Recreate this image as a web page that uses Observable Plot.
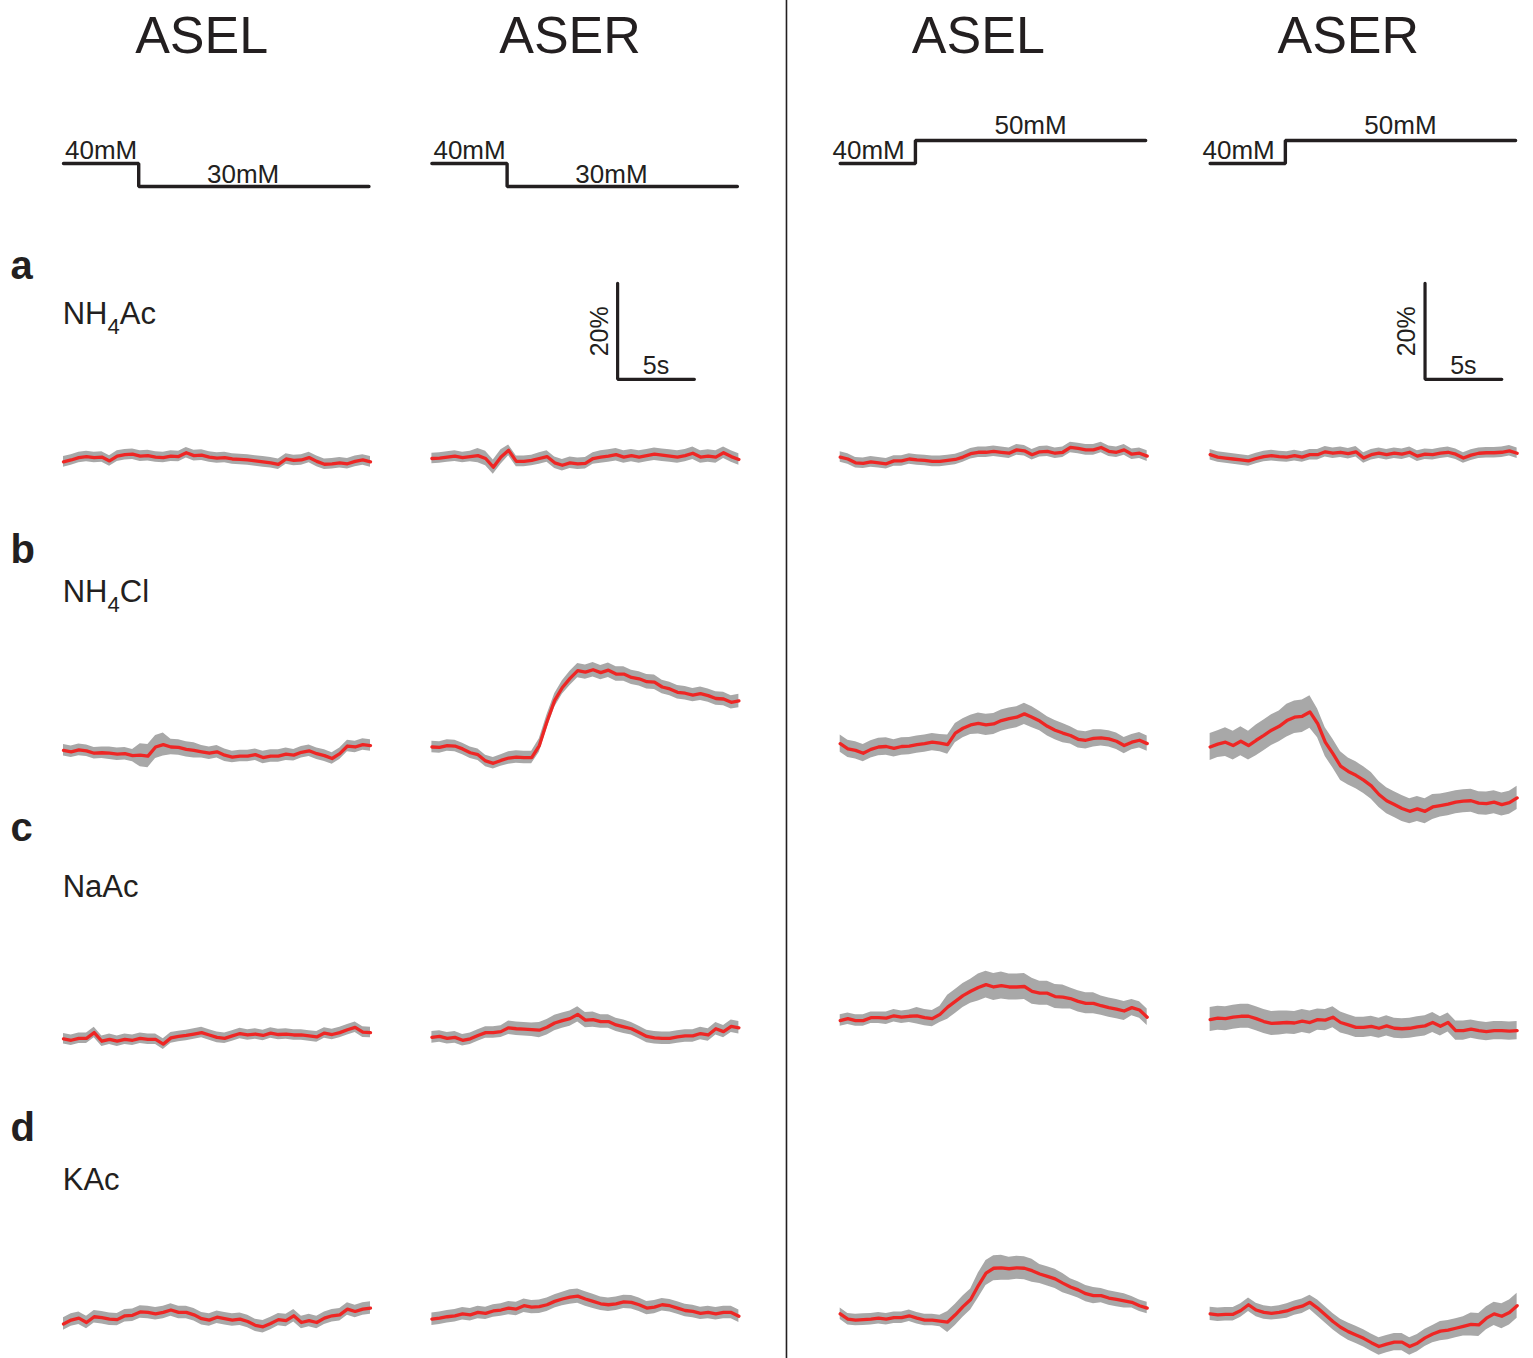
<!DOCTYPE html>
<html>
<head>
<meta charset="utf-8">
<script src="https://cdn.jsdelivr.net/npm/d3@7"></script>
<script src="https://cdn.jsdelivr.net/npm/@observablehq/plot@0.6"></script>
<style>
  html, body { margin: 0; padding: 0; background: #ffffff; }
  #chart { width: 1533px; height: 1358px; }
</style>
</head>
<body>
<div id="chart"></div>
<script>
// ---------------- DATA (ΔF/F, %, sampled every 0.5 s over 20 s) ----------------
const columns   = ["ASEL", "ASER", "ASEL", "ASER"];
const rowLetters = ["a", "b", "c", "d"];
const compounds = ["NH4Ac", "NH4Cl", "NaAc", "KAc"];
const times = d3.range(41).map(i => i * 0.5);        // s

// stimulus steps (mM) : left pair 40 -> 30, right pair 40 -> 50
const stimTimes = [0, 4.9, 19.9];
const stimDown  = [40, 30, 30];
const stimUp    = [40, 50, 50];
const stimLabelsDown = ["40mM", "30mM"];
const stimLabelsUp   = ["40mM", "50mM"];

// scale bar values
const scaleBarPct = 20;
const scaleBarSec = 5;
const scaleBarLabels = ["20%", "5s"];

// row a : NH4Ac
const nh4ac_asel_30 = [-0.3,0.1,0.6,0.8,0.6,0.7,-0.1,0.9,1.2,1.3,0.9,1.0,0.7,0.6,0.9,0.8,1.6,1.0,1.1,0.7,0.5,0.6,0.3,0.2,0.1,-0.1,-0.3,-0.5,-0.8,0.3,0.0,0.1,0.6,-0.2,-0.8,-0.7,-0.5,-0.7,-0.2,0.1,-0.3];
const nh4ac_aser_30 = [0.4,0.5,0.7,0.9,0.6,0.8,1.0,0.4,-1.4,0.7,2.1,-0.2,-0.2,0.0,0.4,0.8,-0.5,-1.0,-0.5,-0.7,-0.6,0.4,0.7,0.9,1.2,0.7,1.0,0.7,1.0,1.3,1.1,0.9,0.7,1.0,1.5,0.7,0.9,0.7,1.6,0.8,0.2];
const nh4ac_asel_50 = [0.7,0.3,-0.5,-0.6,-0.3,-0.5,-0.7,-0.1,-0.1,0.3,0.1,0.0,-0.2,-0.2,0.0,0.2,0.7,1.4,1.7,1.7,1.9,1.7,1.5,2.2,2.0,1.2,1.8,1.9,1.5,1.7,2.7,2.5,2.2,2.2,2.7,1.9,1.7,2.2,1.3,1.5,0.9];
const nh4ac_aser_50 = [1.2,0.7,0.5,0.3,0.1,-0.1,0.4,0.8,1.0,0.8,0.7,1.0,0.7,1.2,1.2,1.8,1.5,1.7,1.4,1.8,0.5,1.2,1.5,1.2,1.5,1.3,1.7,0.9,1.3,1.2,1.5,1.7,1.3,0.5,1.1,1.5,1.6,1.6,1.7,2.0,1.5];
// row b : NH4Cl
const nh4cl_asel_30 = [0.0,-0.3,0.1,-0.1,-0.6,-0.5,-0.6,-0.8,-0.7,-1.1,-1.0,-1.2,0.7,1.2,0.7,0.6,0.2,0.0,-0.3,-0.6,-0.3,-1.0,-1.4,-1.2,-1.2,-0.9,-1.5,-1.2,-1.2,-0.8,-1.0,-0.4,-0.1,-0.7,-1.1,-1.7,-0.7,0.9,0.7,1.2,1.0];
const nh4cl_aser_30 = [0.7,0.6,1.0,0.9,0.3,-0.5,-0.9,-2.2,-2.7,-2.1,-1.6,-1.4,-1.5,-1.5,1.0,6.0,10.4,13.1,15.0,16.6,16.3,16.8,16.2,16.7,15.9,15.9,15.2,14.9,14.3,14.2,13.2,12.8,12.1,11.9,11.5,11.8,11.4,10.8,10.7,10.0,10.3];
const nh4cl_asel_50 = [1.4,0.3,0.0,-0.6,0.2,0.7,0.8,0.4,0.8,0.9,1.2,1.4,1.7,1.5,1.2,3.6,4.6,5.3,5.6,5.3,5.5,6.2,6.6,6.9,7.6,6.9,6.1,5.0,4.2,3.6,3.1,2.3,2.1,2.5,2.6,2.4,1.9,1.0,1.7,2.1,1.4];
const nh4cl_aser_50 = [0.7,1.3,1.7,1.0,1.9,1.0,2.1,3.1,4.2,5.0,6.2,6.9,7.1,8.0,5.6,1.7,-0.7,-3.3,-4.4,-5.2,-6.2,-7.4,-9.2,-10.5,-11.3,-12.1,-12.7,-12.2,-12.7,-11.8,-11.5,-11.2,-10.8,-10.6,-10.5,-11.0,-11.1,-10.8,-11.3,-10.9,-9.9];
// row c : NaAc
const naac_asel_30 = [-0.7,-1.0,-0.6,-0.6,0.6,-1.2,-0.8,-1.2,-0.8,-1.0,-0.6,-0.8,-0.8,-1.8,-0.5,-0.2,0.0,0.3,0.6,0.1,-0.4,-0.6,-0.1,0.4,0.1,0.3,0.0,0.5,0.2,0.3,0.1,0.1,-0.1,-0.3,0.5,0.2,0.6,1.2,1.7,0.7,0.6];
const naac_aser_30 = [-0.4,-0.2,-0.6,-0.4,-1.0,-0.7,0.0,0.6,0.6,0.8,1.6,1.4,1.3,1.2,1.1,1.7,2.6,3.1,3.5,4.4,3.2,3.3,2.9,2.9,2.2,1.8,1.4,0.6,-0.2,-0.5,-0.6,-0.6,-0.3,-0.1,-0.1,0.4,0.1,1.4,0.8,1.9,1.6];
const naac_asel_50 = [3.1,3.5,3.1,3.1,3.7,3.7,3.6,4.1,3.8,4.0,4.1,3.7,3.5,4.4,5.9,7.1,8.3,9.2,10.0,10.6,10.1,10.4,10.1,10.1,10.2,9.2,8.8,8.8,8.1,8.0,7.7,7.1,6.7,6.7,6.2,5.8,5.5,5.1,5.8,5.3,3.8];
const naac_aser_50 = [3.3,3.6,3.5,3.8,4.0,4.0,3.5,2.9,2.5,2.6,2.7,2.6,3.0,2.7,3.3,3.2,3.8,2.7,2.2,1.7,1.7,1.9,1.5,2.0,1.5,1.4,1.5,1.8,2.0,2.7,1.9,2.7,1.0,1.0,1.3,1.0,0.8,1.0,1.0,0.9,1.0];
// row d : KAc
const kac_asel_30 = [-0.7,0.1,0.5,-0.4,0.8,0.6,0.3,0.2,1.0,1.1,1.8,1.7,1.4,1.7,2.2,1.7,1.7,1.2,0.4,0.1,0.7,0.4,0.1,0.3,-0.2,-1.0,-1.3,-0.6,0.2,0.0,1.0,-0.4,0.0,-0.4,0.5,1.0,1.2,2.4,1.9,2.4,2.6];
const kac_aser_30 = [0.3,0.5,0.8,1.0,1.4,1.2,1.7,1.5,2.0,2.2,2.6,2.4,3.1,2.8,2.9,3.3,4.0,4.5,4.9,5.1,4.5,4.0,3.5,3.3,3.5,3.9,3.8,3.3,2.6,2.8,3.3,3.1,2.6,2.1,1.9,1.5,1.7,1.4,1.7,1.7,0.9];
const kac_asel_50 = [1.4,0.3,0.1,0.2,0.3,0.5,0.3,0.6,0.6,1.0,0.5,0.1,0.1,-0.1,-0.3,1.2,2.9,4.4,7.3,9.9,10.9,11.0,10.8,11.0,10.9,10.4,9.7,9.2,8.7,7.8,7.0,6.4,5.6,5.2,5.2,4.7,4.4,4.1,3.8,3.1,2.6];
const kac_aser_50 = [1.4,1.2,1.3,1.3,2.1,3.3,2.2,1.7,1.5,1.7,2.0,2.6,3.0,3.8,2.6,1.2,-0.2,-1.4,-2.3,-3.0,-3.7,-4.6,-5.4,-4.9,-4.5,-4.5,-5.4,-4.7,-3.6,-2.8,-2.2,-2.0,-1.6,-1.2,-0.8,-0.9,0.5,1.4,0.9,1.7,3.1];

// SEM (%) every 2 s (0,2,...,20 s)
const nh4ac_asel_30_sem = [1.1,1.1,1.1,1.1,1.1,1.1,1.1,1.1,1.1,1.1,1.1];
const nh4ac_aser_30_sem = [1.1,1.1,1.5,1.1,1.2,1.2,1.3,1.3,1.3,1.3,1.2];
const nh4ac_asel_50_sem = [1.1,1.1,1.1,1.1,1.1,1.1,1.1,1.1,1.1,1.1,1.1];
const nh4ac_aser_50_sem = [1.1,1.1,1.1,1.1,1.1,1.1,1.1,1.1,1.1,1.1,1.1];
const nh4cl_asel_30_sem = [1.2,1.2,1.3,2.4,1.6,1.3,1.2,1.3,1.2,1.2,1.2];
const nh4cl_aser_30_sem = [1.2,1.2,1.2,1.3,1.4,1.5,1.5,1.5,1.4,1.4,1.4];
const nh4cl_asel_50_sem = [1.8,1.8,1.8,1.8,2.0,2.2,2.2,2.0,1.8,1.7,1.6];
const nh4cl_aser_50_sem = [2.8,3.0,3.2,3.4,3.0,2.8,2.7,2.6,2.4,2.4,2.4];
const naac_asel_30_sem  = [1.1,1.1,1.1,1.1,1.1,1.1,1.1,1.1,1.1,1.1,1.1];
const naac_aser_30_sem  = [1.2,1.2,1.2,1.4,1.6,1.6,1.4,1.3,1.3,1.3,1.3];
const naac_asel_50_sem  = [1.2,1.2,1.3,1.7,2.5,2.8,2.7,2.5,2.2,2.0,1.7];
const naac_aser_50_sem  = [2.5,2.5,2.5,2.4,2.2,2.1,2.1,2.1,2.0,1.9,1.9];
const kac_asel_30_sem   = [1.3,1.3,1.3,1.3,1.3,1.3,1.3,1.3,1.3,1.3,1.3];
const kac_aser_30_sem   = [1.3,1.3,1.3,1.4,1.4,1.5,1.4,1.4,1.3,1.3,1.3];
const kac_asel_50_sem   = [1.2,1.2,1.2,1.2,2.2,2.6,2.4,2.0,1.7,1.5,1.2];
const kac_aser_50_sem   = [1.4,1.4,1.4,1.5,1.7,1.8,1.8,1.8,2.0,2.4,2.6];

// ---------------- LAYOUT (in data units: s horizontally, % vertically) ----------------
const W = 1533, H = 1358;
const xDomain = [-4.104, 95.766];          // 15.35 px per s
const yDomain = [0, 282.92];               // 4.8 px per %
const colOffset = [0, 24.0, 50.6, 74.7];   // s, start of each column
const rowBase   = [187.1, 126.7, 67.3, 7.9];
const dividerX  = 47.1;
const titleT = 9.0, titleY = 271.9;
const letterX = -3.45, letterY = [225.0, 165.8, 107.9, 45.4];
const compoundX = -0.05, compoundY = [215.6, 157.7, 96.25, 35.2];
const stimOrigin = 229.8, stimPerMM = 0.479;
const scaleBars = [{col: 1, t: 12.1}, {col: 3, t: 14.0}];
const scaleBarBottom = 204.0;

const RED = "#ee2624", GREY = "#a8a8a8", INK = "#231f20";
const FONT = "'Liberation Sans', Arial, Helvetica, sans-serif";

// ---------------- BUILD TABLES ----------------
const traceTable = [
  [0,0,nh4ac_asel_30,nh4ac_asel_30_sem],[0,1,nh4ac_aser_30,nh4ac_aser_30_sem],
  [0,2,nh4ac_asel_50,nh4ac_asel_50_sem],[0,3,nh4ac_aser_50,nh4ac_aser_50_sem],
  [1,0,nh4cl_asel_30,nh4cl_asel_30_sem],[1,1,nh4cl_aser_30,nh4cl_aser_30_sem],
  [1,2,nh4cl_asel_50,nh4cl_asel_50_sem],[1,3,nh4cl_aser_50,nh4cl_aser_50_sem],
  [2,0,naac_asel_30,naac_asel_30_sem],[2,1,naac_aser_30,naac_aser_30_sem],
  [2,2,naac_asel_50,naac_asel_50_sem],[2,3,naac_aser_50,naac_aser_50_sem],
  [3,0,kac_asel_30,kac_asel_30_sem],[3,1,kac_aser_30,kac_aser_30_sem],
  [3,2,kac_asel_50,kac_asel_50_sem],[3,3,kac_aser_50,kac_aser_50_sem]
];
const pts = [];
traceTable.forEach(([r, c, vals, sem]) => {
  vals.forEach((v, i) => {
    const t = times[i];
    const s = sem[Math.round(t / 2)];
    const y = rowBase[r] + v;
    pts.push({key: compounds[r] + "-" + c, x: t + colOffset[c], y, lo: y - s, hi: y + s});
  });
});

const stimPts = [];
const stimStartText = [], stimDownText = [], stimUpText = [];
columns.forEach((name, c) => {
  const up = c >= 2;
  const conc = up ? stimUp : stimDown;
  const labels = up ? stimLabelsUp : stimLabelsDown;
  stimTimes.forEach((t, i) => stimPts.push({c, x: t + colOffset[c], y: stimOrigin + stimPerMM * conc[i]}));
  stimStartText.push({text: labels[0], x: colOffset[c] + (up ? -0.5 : 0.1), y: stimOrigin + stimPerMM * conc[0]});
  (up ? stimUpText : stimDownText).push({text: labels[1], x: colOffset[c] + (up ? 12.4 : 11.7), y: stimOrigin + stimPerMM * conc[2]});
});

const barPts = [];
const barV = [], barH = [];
scaleBars.forEach((b, i) => {
  const x0 = colOffset[b.col] + b.t;
  barPts.push({i, x: x0, y: scaleBarBottom + scaleBarPct});
  barPts.push({i, x: x0, y: scaleBarBottom});
  barPts.push({i, x: x0 + scaleBarSec, y: scaleBarBottom});
  barV.push({text: scaleBarLabels[0], x: x0, y: scaleBarBottom + scaleBarPct / 2});
  barH.push({text: scaleBarLabels[1], x: x0 + scaleBarSec / 2, y: scaleBarBottom});
});

const titles = columns.map((name, c) => ({text: name, x: colOffset[c] + titleT, y: titleY}));
const letters = rowLetters.map((l, r) => ({text: l, x: letterX, y: letterY[r]}));
const comps = compounds.map((l, r) => ({text: l, x: compoundX, y: compoundY[r]}));

// ---------------- PLOT ----------------
const txt = {x: "x", y: "y", text: "text", fill: INK};
const chart = Plot.plot({
  width: W, height: H, margin: 0,
  x: {domain: xDomain, axis: null},
  y: {domain: yDomain, axis: null},
  style: {fontFamily: FONT, color: INK, background: "#ffffff"},
  marks: [
    Plot.ruleX([dividerX], {stroke: INK, strokeWidth: 1.6}),
    Plot.areaY(pts, {x: "x", y1: "lo", y2: "hi", z: "key", fill: GREY, curve: "linear"}),
    Plot.line(pts, {x: "x", y: "y", z: "key", stroke: RED, strokeWidth: 3.3, strokeLinejoin: "round"}),
    Plot.line(stimPts, {x: "x", y: "y", z: "c", curve: "step-after", stroke: INK, strokeWidth: 3.4, strokeLinejoin: "miter"}),
    Plot.text(stimStartText, {...txt, textAnchor: "start", lineAnchor: "bottom", dy: -5, fontSize: 26}),
    Plot.text(stimDownText, {...txt, textAnchor: "middle", lineAnchor: "bottom", dy: -3, fontSize: 26}),
    Plot.text(stimUpText, {...txt, textAnchor: "middle", lineAnchor: "bottom", dy: -7, fontSize: 26}),
    Plot.line(barPts, {x: "x", y: "y", z: "i", stroke: INK, strokeWidth: 3.2, strokeLinejoin: "miter"}),
    Plot.text(barV, {...txt, rotate: -90, dx: -18, textAnchor: "middle", lineAnchor: "middle", fontSize: 25}),
    Plot.text(barH, {...txt, dy: -5, textAnchor: "middle", lineAnchor: "bottom", fontSize: 25}),
    Plot.text(titles, {...txt, textAnchor: "middle", lineAnchor: "bottom", fontSize: 52}),
    Plot.text(letters, {...txt, textAnchor: "start", lineAnchor: "bottom", fontSize: 40, fontWeight: "bold"}),
    Plot.text(comps, {...txt, textAnchor: "start", lineAnchor: "bottom", fontSize: 31})
  ]
});
document.getElementById("chart").appendChild(chart);

// subscripts for NH4Ac / NH4Cl
const NS = "http://www.w3.org/2000/svg";
chart.querySelectorAll("text").forEach(el => {
  const m = el.textContent.match(/^(NH)4(.+)$/);
  if (!m || el.children.length) return;
  el.textContent = "";
  const a = document.createElementNS(NS, "tspan"); a.textContent = m[1];
  const b = document.createElementNS(NS, "tspan"); b.textContent = "4";
  b.setAttribute("dy", "10"); b.setAttribute("font-size", "22");
  const c = document.createElementNS(NS, "tspan"); c.textContent = m[2];
  c.setAttribute("dy", "-10");
  el.append(a, b, c);
});
</script>
</body>
</html>
